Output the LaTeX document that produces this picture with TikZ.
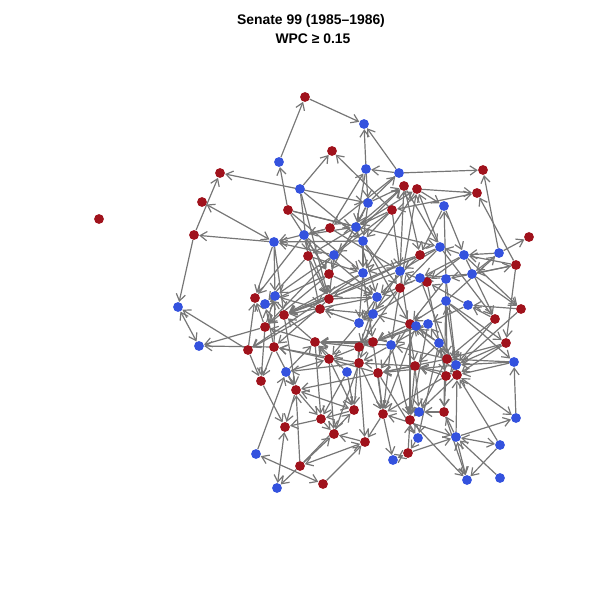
\documentclass[tikz,border=0pt]{standalone}
\usepackage{fontspec}
\setmainfont{Liberation Sans}
\usetikzlibrary{arrows.meta, backgrounds}

\definecolor{senred}{RGB}{160,18,28}
\definecolor{senblue}{RGB}{52,82,222}
\definecolor{edgegray}{RGB}{118,118,118}

\tikzset{
    % --- Senator (vertex) ---
    senator/.style = {
        circle, inner sep=0pt, minimum size=2.45mm
    },
    rep/.style = {senator, fill=senred},
    dem/.style = {senator, fill=senblue},
    % --- Co-sponsorship link ---
    link/.style = {
        draw=edgegray, line width=0.85pt,
        -{Straight Barb[length=1.7mm,width=2.3mm]}
    },
    % --- Link drawn both ways ---
    mutual/.style = {
        link, {Straight Barb[length=1.7mm,width=2.3mm]}-{Straight Barb[length=1.7mm,width=2.3mm]}
    },
    % --- Title lines ---
    headline/.style = {
        font=\fontsize{9.9}{11.5}\selectfont\bfseries
    }
}

\begin{document}
\begin{tikzpicture}[x=0.025cm, y=-0.025cm]

\useasboundingbox (0,0) rectangle (600,600);

% ---------------------------------------------------------
% Title
% ---------------------------------------------------------
\node[headline] (title) at (311,21) {Senate 99 (1985--1986)};
\node[headline] (subtitle) at (313,39) {WPC ≥ 0.15};

% ---------------------------------------------------------
% Republicans
% ---------------------------------------------------------
\foreach \n/\x/\y in {r1/99/219, r2/305/97, r3/332/151, r4/483/170, r5/220/173,
    r6/404/186, r7/417/189, r8/477/193, r9/202/202, r10/288/210, r11/392/210,
    r12/194/235, r13/330/228, r14/529/237, r15/308/256, r16/420/255,
    r17/516/265, r18/329/274, r19/427/282, r20/400/288, r21/255/298,
    r22/329/299, r23/320/309, r24/284/315, r25/521/309, r26/265/327,
    r27/410/324, r28/495/319, r29/315/342, r30/373/342, r31/359/347,
    r32/248/350, r33/274/347, r34/506/343, r35/329/359, r36/359/363,
    r37/447/359, r38/415/366, r39/378/373, r40/446/376, r41/457/375,
    r42/261/381, r43/296/390, r44/383/414, r45/444/412, r46/410/420,
    r47/354/410, r48/321/419, r49/285/427, r50/334/434, r51/365/442,
    r52/408/453, r53/300/466, r54/323/484}
    \node[rep] (\n) at (\x,\y) {};

% ---------------------------------------------------------
% Democrats
% ---------------------------------------------------------
\foreach \n/\x/\y in {b1/364/124, b2/279/162, b3/366/169, b4/399/173,
    b5/300/189, b6/368/203, b7/444/206, b8/274/242, b9/304/235,
    b10/356/227, b11/363/241, b12/440/247, b13/464/255, b14/499/253,
    b15/334/255, b16/363/273, b17/400/271, b18/420/278, b19/446/279,
    b20/472/274, b21/178/307, b22/275/296, b23/265/304, b24/377/297,
    b25/446/301, b26/468/305, b27/373/314, b28/359/323, b29/416/326,
    b30/428/324, b31/199/346, b32/391/345, b33/439/343, b34/456/365,
    b35/514/362, b36/286/372, b37/347/372, b38/419/412, b39/516/418,
    b40/456/437, b41/418/438, b42/500/445, b43/393/460, b44/467/480,
    b45/500/478, b46/256/454, b47/277/488}
    \node[dem] (\n) at (\x,\y) {};

% ---------------------------------------------------------
% Links (behind the vertices)
% ---------------------------------------------------------
\begin{scope}[on background layer]
% outer ring
\foreach \a/\b in {r2/b1, b2/r2, b3/b1, b4/b1, r10/b2, b5/r3, r11/r3, b4/b3,
    r12/r5, b8/r12, r12/b21, r32/b21, r26/b31, r33/b31, b8/r21, b9/r21,
    r32/r21, r33/b22, b4/r4, r7/r8, b14/r4, r17/r8, r7/b7, b19/b7, b12/r7,
    r6/b12, b14/r14, r17/r34, b20/r17, b13/r25, b25/b14, r10/b12, b12/r28,
    b39/b35, b35/r41, r34/r41, b25/b35, b40/r41, b40/b39, b42/b44, r45/b44,
    b42/r41, r44/b43, r52/r46, r52/b40, r45/b38, r38/b38, r40/r45, b40/r45,
    r46/b44, b46/b36, r53/b47, r53/r43, r53/r47, r53/r50, r48/r49, r43/r49,
    r48/r50, r47/r48, r39/r43, r43/r48, r33/r42, r32/r42, b36/r35, r35/r47,
    b37/r48, r51/r50, r39/b41, b41/r52, r30/r44, b32/r44, r39/r44, r36/r44,
    r27/r46, r31/r47, b37/r47, r36/r50, r54/r51, b45/b40, r13/b3, b6/b4,
    b10/r6, b15/r6, b17/r6, r20/r7, b6/r6, b10/r7}
    \draw[link] (\a) -- (\b);
% core
\foreach \a/\b in {b5/b11, r10/b16, b9/b10, b11/b8, r13/b8, b15/b8, r13/b9,
    b10/r15, b6/b10, r11/b11, b6/r18, b5/r15, r10/b10, b9/r18, r15/b23,
    b15/b22, r18/b23, b16/r24, b24/r24, r22/r24, r23/b22, b27/r23, b28/r23,
    r29/r24, r33/b23, r26/b22, r26/r21, r29/r26, r30/r29, b32/r29, r31/r29,
    r35/r29, b36/r29, r36/r33, r35/r33, b37/r29, r39/r35, r36/b36, r31/r35,
    b32/r36, r38/r36, r38/r39, r37/r39, b34/r39, r40/r38, r41/r38, b33/r38,
    r37/b32, r27/r30, b29/r30, b30/r31, r20/r31, b17/b27, b24/b28, b16/b28,
    r18/b24, r22/b24, b15/r22, r15/r22, r15/b16, b11/b16, b11/r20, r16/b16,
    b12/b17, b12/r20, r16/b24, b13/r19, b13/b18, b20/b19, b20/b18, b19/r27,
    b25/r27, b26/b30, b26/r19, r19/b17, b18/b24, b17/r24, r20/b28, r19/b28,
    b29/b27, b30/b32, b33/r27, b33/b29, r37/b33, r37/r27, b34/b30, r40/b33,
    r41/b25, r28/b26, r28/r37, r25/b26, r25/r40, r34/r37, b35/b34, r17/b20,
    b14/b13, b13/b12, b7/b13, b7/r16, r6/r16, r11/b10, b6/b11, r11/b15,
    b3/b6, b3/b10, r7/b16, b4/r13, b5/r22, r10/r18, b9/r22, b9/b24,
    r13/b17, b10/b24, b11/r27, b16/r30, b28/r35, b27/r36, b24/r31, r20/b32,
    b17/r38, b18/r41, r19/r40, b19/b34, b25/r37, r27/r39, b29/r44, b30/r46,
    r38/r46, b32/r46, r29/r48, r35/r50, b36/r43, r33/r43, r26/r42, r24/r43,
    r42/r49, r44/r51, r36/r51, r40/r44, r37/b38, r41/r46, b33/b41, b19/r45,
    r28/b34, r34/b34, b35/r37, b13/r28, b25/r34, b20/r25, b14/b20, r17/b13,
    b9/r23, b8/r24, b8/b22, r18/r26, b15/r26, b16/r32, r22/r33, r23/r32,
    r11/b17, r16/r22, b12/r24}
    \draw[link] (\a) -- (\b);
% reciprocated
\foreach \a/\b in {r5/b6, r9/b8, b21/b31, r11/r8, r41/b39, b40/b42, b40/b44,
    r52/b43, r44/b40, b46/r54, r49/b47, r53/r51, r43/r47}
    \draw[mutual] (\a) -- (\b);
\end{scope}

\end{tikzpicture}
\end{document}
